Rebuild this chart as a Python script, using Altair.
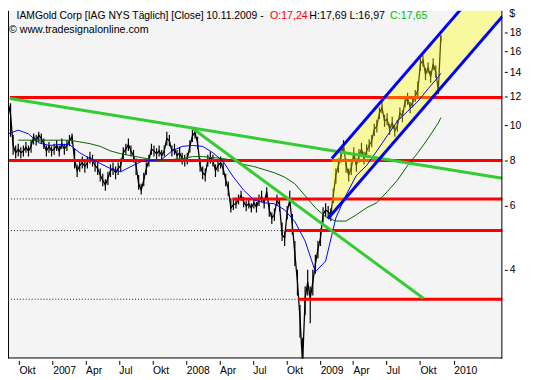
import altair as alt
import pandas as pd

# ---------------- data ----------------
START = "2006-09-01"
END = "2010-05-14"

# weekly closes, one value per 7 days starting 2006-09-01 (USD)
close = [
    11.6, 10.7, 8.8, 8.4, 8.6, 8.4, 8.5, 8.7, 8.5, 8.75,
    9.3, 9.06, 9.4, 9.2, 8.9, 8.5, 8.75, 8.5, 8.6, 8.8,
    8.5, 8.9, 8.6, 8.8, 9.06, 9.3, 8.0, 7.5, 7.75, 7.9,
    7.7, 7.9, 8.15, 8.0, 7.75, 7.6, 7.3, 7.06, 6.85, 7.15,
    7.5, 7.6, 7.4, 7.6, 7.75, 8.4, 8.6, 8.85, 8.5, 8.25,
    7.75, 6.9, 6.63, 7.06, 7.6, 8.0, 8.6, 8.5, 8.35, 8.5,
    8.25, 8.5, 9.2, 9.06, 8.5, 8.6, 8.25, 8.4, 8.1, 8.0,
    8.1, 8.75, 9.35, 9.55, 8.95, 7.75, 7.4, 7.3, 8.0, 8.15,
    8.0, 7.5, 7.75, 7.9, 7.6, 7.06, 6.7, 5.92, 6.05, 6.08,
    6.23, 6.4, 6.15, 6.0, 6.08, 5.92, 6.12, 5.96, 6.23, 6.35,
    6.12, 6.56, 5.85, 5.56, 5.67, 6.23, 6.05, 5.0, 4.9, 5.78,
    6.23, 5.33, 4.42, 3.7, 2.94, 2.2, 3.34, 3.7, 3.34, 3.7,
    4.15, 4.56, 4.9, 5.67, 5.85, 5.78, 5.67, 6.4, 7.3, 7.75,
    8.25, 8.8, 7.75, 7.3, 7.6, 8.4, 7.75, 8.25, 8.6, 8.1,
    8.5, 8.8, 9.06, 9.75, 9.95, 10.8, 11.2, 10.27, 10.4, 9.75,
    10.15, 9.65, 9.95, 10.8, 10.6, 11.6, 11.85, 11.2, 11.6, 12.0,
    12.5, 14.75, 15.1, 13.8, 14.4, 13.6, 14.75, 14.0, 12.5, 17.65,
]
# weekly lows and highs
low = [
    11.0, 9.3, 8.3, 8.1, 8.2, 8.1, 8.2, 8.4, 8.2, 8.4,
    8.85, 8.8, 9.0, 8.9, 8.6, 8.2, 8.4, 8.2, 8.3, 8.5,
    8.2, 8.6, 8.3, 8.5, 8.75, 8.9, 7.6, 7.2, 7.45, 7.6,
    7.4, 7.6, 7.85, 7.7, 7.45, 7.3, 7.0, 6.8, 6.6, 6.85,
    7.2, 7.3, 7.1, 7.3, 7.45, 8.0, 8.3, 8.5, 8.2, 7.9,
    7.3, 6.65, 6.45, 6.8, 7.3, 7.7, 8.3, 8.2, 8.05, 8.2,
    7.95, 8.2, 8.8, 8.75, 8.2, 8.3, 7.95, 8.1, 7.8, 7.7,
    7.8, 8.4, 9.0, 9.2, 8.6, 7.45, 7.1, 7.0, 7.7, 7.85,
    7.7, 7.2, 7.45, 7.6, 7.3, 6.8, 6.4, 5.75, 5.85, 5.9,
    6.05, 6.2, 5.95, 5.8, 5.9, 5.75, 5.9, 5.75, 6.0, 6.15,
    5.9, 6.3, 5.6, 5.35, 5.45, 6.0, 5.8, 4.8, 4.65, 5.5,
    6.0, 5.0, 4.1, 3.4, 2.6, 2.1, 3.0, 3.4, 2.85, 3.4,
    3.9, 4.3, 4.65, 5.4, 5.6, 5.55, 5.45, 6.1, 6.9, 7.4,
    7.9, 8.4, 7.4, 7.0, 7.3, 8.0, 7.45, 7.9, 8.25, 7.8,
    8.15, 8.45, 8.7, 9.35, 9.55, 10.4, 10.8, 9.9, 10.0, 9.4,
    9.8, 9.3, 9.6, 10.4, 10.2, 11.2, 11.4, 10.8, 11.2, 11.6,
    12.0, 14.1, 14.5, 13.3, 13.9, 13.1, 14.2, 13.5, 12.2, 16.97,
]
high = [
    11.9, 11.5, 9.4, 8.8, 8.9, 8.7, 8.8, 9.0, 8.8, 9.1,
    9.5, 9.4, 9.6, 9.5, 9.2, 8.8, 9.0, 8.75, 8.9, 9.1,
    8.8, 9.2, 8.9, 9.1, 9.4, 9.5, 8.6, 7.8, 8.05, 8.2,
    8.0, 8.2, 8.45, 8.3, 8.05, 7.9, 7.6, 7.35, 7.1, 7.45,
    7.8, 7.9, 7.7, 7.9, 8.1, 8.7, 8.9, 9.2, 8.8, 8.55,
    8.1, 7.3, 6.9, 7.4, 7.9, 8.3, 8.9, 8.8, 8.65, 8.8,
    8.55, 8.8, 9.6, 9.4, 8.8, 8.9, 8.55, 8.7, 8.4, 8.3,
    8.4, 9.1, 9.7, 9.85, 9.3, 8.1, 7.7, 7.6, 8.3, 8.45,
    8.3, 7.8, 8.05, 8.2, 7.9, 7.35, 7.0, 6.3, 6.25, 6.3,
    6.45, 6.6, 6.35, 6.2, 6.3, 6.1, 6.3, 6.15, 6.45, 6.6,
    6.3, 6.75, 6.1, 5.75, 5.9, 6.45, 6.3, 5.4, 5.1, 6.0,
    6.6, 5.7, 4.8, 4.0, 3.2, 2.6, 3.6, 4.0, 3.6, 4.0,
    4.4, 4.8, 5.2, 5.95, 6.1, 6.0, 5.9, 6.7, 7.6, 8.1,
    8.6, 9.1, 8.1, 7.6, 7.9, 8.7, 8.1, 8.6, 8.95, 8.45,
    8.85, 9.15, 9.4, 10.1, 10.35, 11.2, 11.6, 10.7, 10.8, 10.1,
    10.55, 10.0, 10.35, 11.2, 11.0, 12.0, 12.3, 11.6, 12.0, 12.5,
    13.2, 15.3, 15.6, 14.4, 14.9, 14.1, 15.3, 14.6, 13.2, 17.69,
]

# moving averages, sampled every 4th week plus the last bar
ma_blue = [
    9.47, 9.7, 9.47, 8.95, 8.8, 8.85, 8.85, 8.4, 8.1, 7.85,
    7.6, 7.45, 7.7, 7.95, 8.0, 8.05, 8.5, 8.75, 8.8, 8.75,
    8.4, 7.95, 7.2, 6.63, 6.23, 6.12, 6.08, 5.85, 5.43, 4.8,
    3.95, 4.23, 5.56, 6.43, 7.28, 7.75, 8.5, 9.35, 10.27, 10.93,
    11.63, 12.6, 13.6, 13.9,
]
ma_green = [
    None, 9.1, 9.1, 9.1, 9.1, 9.1, 9.1, 9.0, 8.9, 8.75,
    8.5, 8.35, 8.25, 8.15, 8.05, 8.02, 8.05, 8.1, 8.2, 8.2,
    8.15, 8.1, 8.0, 7.8, 7.7, 7.55, 7.4, 7.2, 6.9, 6.4,
    5.93, 5.6, 5.45, 5.45, 5.67, 5.93, 6.12, 6.56, 7.06, 7.75,
    8.4, 9.2, 10.15, 10.5,
]

# horizontal support / resistance lines
red_levels = [11.93, 8.0, 6.27, 5.13, 3.32]
red_starts = ["2006-09-06", "2006-09-01", "2008-05-06", "2008-09-29", "2008-11-02"]

# green trend lines
trend_ids = ["t1", "t1", "t2", "t2"]
trend_dates = ["2006-09-06", "2010-05-14", "2008-01-17", "2009-10-10"]
trend_values = [11.85, 7.15, 9.83, 3.34]

# rising channel
chan_ids = ["lower", "lower", "upper", "upper"]
chan_dates = ["2009-01-22", "2010-05-14", "2009-02-02", "2010-05-14"]
chan_values = [5.53, 19.93, 8.10, 28.3]
fill_dates = ["2009-02-02", "2010-05-14"]
fill_lower = [5.70, 19.93]
fill_upper = [8.10, 28.3]

y_ticks = [4, 6, 8, 10, 12, 14, 16, 18]
x_ticks = [(2006, 10), (2007, 1), (2007, 4), (2007, 7), (2007, 10), (2008, 1), (2008, 4),
           (2008, 7), (2008, 10), (2009, 1), (2009, 4), (2009, 7), (2009, 10), (2010, 1)]

# ---------------- tables ----------------
week_dates = pd.date_range(START, periods=len(close), freq="7D")
price_df = pd.DataFrame({"date": week_dates.strftime("%Y-%m-%d"), "value": close,
                         "low": low, "high": high})
ma_dates = list(week_dates[::4]) + [week_dates[-1]]
ma_dates = [d.strftime("%Y-%m-%d") for d in ma_dates]
blue_df = pd.DataFrame({"date": ma_dates, "value": ma_blue})
green_df = pd.DataFrame({"date": ma_dates, "value": ma_green}).dropna()
red_df = pd.DataFrame({"start": red_starts, "end": END, "level": red_levels})
dot_df = red_df[red_df["start"] > START].assign(end=lambda d: d["start"], start=START)
trend_df = pd.DataFrame({"id": trend_ids, "date": trend_dates, "value": trend_values})
chan_df = pd.DataFrame({"id": chan_ids, "date": chan_dates, "value": chan_values})
fill_df = pd.DataFrame({"date": fill_dates, "lower": fill_lower, "upper": fill_upper})
one = pd.DataFrame({"k": [0]})

# ---------------- scales / axes ----------------
W, H = 502, 353
FONT = "Liberation Sans"
xs = alt.Scale(type="utc", domain=[alt.DateTime(year=2006, month=9, date=1, utc=True),
                                   alt.DateTime(year=2010, month=5, date=14, utc=True)])
ys = alt.Scale(type="log", domain=[2.281, 20.66], nice=False)
x_axis = alt.Axis(
    values=[alt.DateTime(year=y, month=m, date=1, utc=True) for y, m in x_ticks],
    labelExpr="utcmonth(datum.value)==0 ? utcFormat(datum.value,'%Y') : (utcmonth(datum.value)==3 ? 'Apr' : (utcmonth(datum.value)==6 ? 'Jul' : 'Okt'))",
    title=None, grid=False, domain=False, tickSize=4, offset=2, labelAlign="left",
    labelPadding=1, labelFlush=False, labelOverlap=False,
)
y_axis = alt.Axis(orient="right", values=y_ticks, title=None, grid=False, domain=False,
                  tickSize=3, offset=2, labelPadding=2, labelOverlap=False, labelFlush=False,
                  format="d")


def X(field):
    return alt.X(field, type="temporal", scale=xs, axis=x_axis)


def Y(field):
    return alt.Y(field, type="quantitative", scale=ys, axis=y_axis)


dotted = alt.Chart(dot_df).mark_rule(color="#222222", strokeWidth=1, strokeDash=[1, 2]).encode(
    x=X("start"), x2="end:T", y=Y("level"))
bars = alt.Chart(price_df).mark_rule(color="black", strokeWidth=1.2, clip=True).encode(
    x=X("date"), y=Y("low"), y2="high:Q")
price = alt.Chart(price_df).mark_line(color="black", strokeWidth=1.3, clip=True).encode(
    x=X("date"), y=Y("value"))
red = alt.Chart(red_df).mark_rule(color="#ff0000", strokeWidth=3).encode(
    x=X("start"), x2="end:T", y=Y("level"))
yellow = alt.Chart(fill_df).mark_area(color="#ffff00", opacity=0.35, clip=True).encode(
    x=X("date"), y=Y("lower"), y2="upper:Q")
ma_b = alt.Chart(blue_df).mark_line(color="#0000ff", strokeWidth=1).encode(
    x=X("date"), y=Y("value"))
ma_g = alt.Chart(green_df).mark_line(color="#006400", strokeWidth=1).encode(
    x=X("date"), y=Y("value"))
trend = alt.Chart(trend_df).mark_line(color="#33cc33", strokeWidth=3, clip=True).encode(
    x=X("date"), y=Y("value"), detail="id:N")
channel = alt.Chart(chan_df).mark_line(color="#0000ff", strokeWidth=3, clip=True).encode(
    x=X("date"), y=Y("value"), detail="id:N")

frame_l = alt.Chart(one).mark_rule(color="black", strokeWidth=1).encode(
    x=alt.value(0.5), y=alt.value(0), y2=alt.value(H))
frame_r = alt.Chart(one).mark_rule(color="black", strokeWidth=1).encode(
    x=alt.value(W - 0.5), y=alt.value(0), y2=alt.value(H))
frame_b = alt.Chart(one).mark_rule(color="black", strokeWidth=1).encode(
    x=alt.value(0), x2=alt.value(W), y=alt.value(H - 0.5))


def txt(s, x, y, color="black", size=10.8):
    return alt.Chart(one).mark_text(text=s, align="left", baseline="alphabetic", font=FONT,
                                    fontSize=size, color=color).encode(
        x=alt.value(x), y=alt.value(y))


texts = [
    txt("IAMGold Corp [IAG NYS  Täglich] [Close] 10.11.2009 -", 8.7, 8, size=10.5),
    txt("O:17,24", 266, 8, "#ff0000"),
    txt("H:17,69 L:16,97", 306, 8),
    txt("C:17,65", 388, 8, "#00bb00"),
    txt("© www.tradesignalonline.com", 1, 23),
    txt("$", 509, 6),
]

chart = alt.layer(
    dotted, bars, price, red, yellow, ma_b, ma_g, trend, channel,
    frame_l, frame_r, frame_b, *texts
).properties(
    width=W, height=H,
    autosize=alt.AutoSizeParams(type="none"),
    padding={"left": 0, "top": 0, "right": 24, "bottom": 19},
).configure_view(stroke=None, fill="#f4f4f4").configure_axis(
    labelFont=FONT, labelFontSize=10.5, labelColor="black", tickColor="black"
)

chart.save("out.html", embed_options={"renderer": "svg", "actions": False})
